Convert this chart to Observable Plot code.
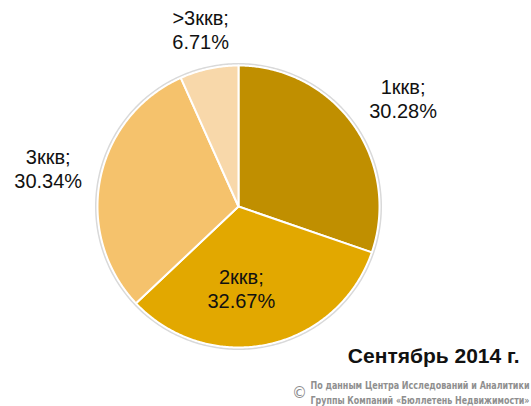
<!DOCTYPE html>
<html>
<head>
<meta charset="utf-8">
<script src="https://cdn.jsdelivr.net/npm/d3@7"></script>
<script src="https://cdn.jsdelivr.net/npm/@observablehq/plot@0.6"></script>
<style>
  html, body { margin: 0; padding: 0; background: #fff; }
  #chart svg { display: block; }
</style>
</head>
<body>
<div id="chart"></div>
<script>
// ---- data ----
const categories = ["1ккв", "2ккв", "3ккв", ">3ккв"];
const shares = [30.28, 32.67, 30.34, 6.71];
const colors = ["#C08F00", "#E2A800", "#F5C26C", "#F8D8AA"];
const title = "Сентябрь 2014 г.";
const sourceLines = ["По данным Центра Исследований и Аналитики", "Группы Компаний «Бюллетень Недвижимости»"];

// ---- layout (style, not data) ----
const W = 531, H = 406;
const cx = 238, cy = 206, R = 141;
const labelRadius = [196, 82, 194, 181];
const labelShift = [[5, 6], [0, 0], [0, 0], [0, 0]];

const rows = categories.map((c, i) => ({category: c, value: shares[i], color: colors[i]}));
const arcs = d3.pie().sort(null).value(d => d.value)(rows);

// Build each wedge polygon from pie angles (clockwise from 12 o'clock)
function wedge(a) {
  const pts = [{x: cx, y: cy}];
  const n = Math.max(8, Math.ceil((a.endAngle - a.startAngle) / 0.01));
  for (let k = 0; k <= n; k++) {
    const t = a.startAngle + (a.endAngle - a.startAngle) * k / n;
    pts.push({x: cx + R * Math.sin(t), y: cy - R * Math.cos(t)});
  }
  return pts;
}
const ring = d3.range(0, 361).map(k => {
  const t = k * Math.PI / 180;
  return {x: cx + (R + 1.5) * Math.sin(t), y: cy - (R + 1.5) * Math.cos(t)};
});

const labels = arcs.map((a, i) => {
  let mid = (a.startAngle + a.endAngle) / 2;
  if (i === 1) mid = Math.PI * 178 / 180;
  return {
    x: cx + labelRadius[i] * Math.sin(mid) + labelShift[i][0],
    y: cy - labelRadius[i] * Math.cos(mid) + labelShift[i][1],
    text: `${a.data.category};\n${a.data.value.toFixed(2)}%`
  };
});

const marks = [
  Plot.line(ring, {x: "x", y: "y", stroke: "#d9d9d9", strokeWidth: 2, curve: "linear-closed"}),
  ...arcs.map(a => Plot.line(wedge(a), {
    x: "x", y: "y", fill: a.data.color, stroke: "#fff", strokeWidth: 2,
    strokeLinejoin: "round", curve: "linear-closed"
  })),
  Plot.text(labels, {
    x: "x", y: "y", text: "text", fontSize: 20, lineHeight: 1.2,
    fill: "#111", textAnchor: "middle", lineAnchor: "middle",
    fontFamily: "Liberation Sans, Arial, sans-serif"
  }),
  Plot.text([title], {
    x: () => 519, y: () => 356, text: d => d, textAnchor: "end", lineAnchor: "middle",
    fontSize: 21, fontWeight: "bold", fill: "#111",
    fontFamily: "Liberation Sans, Arial, sans-serif"
  }),
  Plot.text(["©"], {
    x: () => 299, y: () => 393, text: d => d, textAnchor: "middle", lineAnchor: "middle",
    fontSize: 15, fill: "#8c8c8c", fontFamily: "DejaVu Sans, sans-serif"
  }),
  Plot.text(sourceLines, {
    x: () => 310, y: (d, i) => 385 + i * 15, text: d => d, textAnchor: "start", lineAnchor: "middle",
    fontSize: 11, fontWeight: "bold", fill: "#8f8f8f",
    fontFamily: "Liberation Sans Narrow, DejaVu Sans Condensed, sans-serif",
    className: "source"
  })
];

const chart = Plot.plot({
  width: W, height: H,
  margin: 0,
  x: {domain: [0, W], range: [0, W], axis: null},
  y: {domain: [0, H], range: [0, H], axis: null},
  style: {background: "#fff", overflow: "hidden"},
  marks
});
// fit the source note into the space it has in the original
chart.querySelectorAll("g.source text").forEach(t => {
  t.setAttribute("textLength", 219);
  t.setAttribute("lengthAdjust", "spacingAndGlyphs");
});
document.getElementById("chart").appendChild(chart);
</script>
</body>
</html>
